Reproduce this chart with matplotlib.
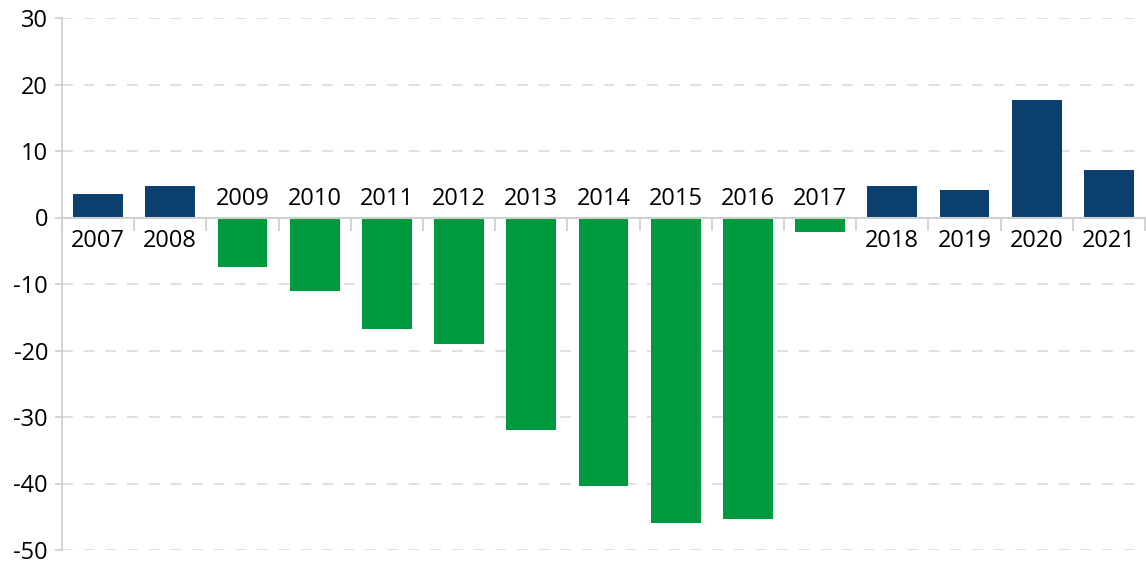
import numpy as np
import matplotlib.pyplot as plt

# yearly values
years = ["2007", "2008", "2009", "2010", "2011", "2012", "2013", "2014",
         "2015", "2016", "2017", "2018", "2019", "2020", "2021"]
values = [3.6, 4.8, -7.4, -11.0, -16.7, -19.0, -32.0, -40.4,
          -45.9, -45.3, -2.2, 4.7, 4.2, 17.6, 7.2]
yticks = [30, 20, 10, 0, -10, -20, -30, -40, -50]

navy = "#0B3F6E"
green = "#009A3E"
grey = "#D0D0D0"

plt.rcParams['font.family'] = ['Open Sans', 'DejaVu Sans']

fig = plt.figure(figsize=(11.46, 5.62), dpi=100)
ax = fig.add_axes([62/1146, 12/562, (1145-62)/1146, (550-18)/562])

x = np.arange(len(years))
cols = [navy if v >= 0 else green for v in values]
ax.bar(x, values, width=0.69, color=cols, zorder=3)

ax.set_xlim(-0.5, len(years) - 0.5)
ax.set_ylim(-50, 30)
ax.set_yticks(yticks)
ax.set_yticklabels([str(t) for t in yticks], fontsize=17)
ax.yaxis.grid(True, linestyle=(0, (6, 6)), color="#DDDDDD", linewidth=1.3, zorder=0)

# category boundaries as ticks on zero line
ax.set_xticks(np.arange(len(years) + 1) - 0.5)
ax.set_xticklabels([])
ax.tick_params(axis='x', length=9, color=grey, width=1.3)
ax.tick_params(axis='y', length=5, color=grey, width=1.3, pad=5, labelcolor="black")

for s in ['top', 'right']:
    ax.spines[s].set_visible(False)
ax.spines['bottom'].set_position(('data', 0))
ax.spines['bottom'].set_color(grey)
ax.spines['bottom'].set_linewidth(1.5)
ax.spines['bottom'].set_zorder(4)
ax.spines['left'].set_color(grey)
ax.spines['left'].set_linewidth(1.3)

# year labels: under the line for positive bars, over it for negative ones
for xi, yr, v in zip(x, years, values):
    if v >= 0:
        ax.annotate(yr, (xi, 0), xytext=(0, -8), textcoords='offset points',
                    ha='center', va='top', fontsize=17)
    else:
        ax.annotate(yr, (xi, 0), xytext=(0, 5), textcoords='offset points',
                    ha='center', va='bottom', fontsize=17)

fig.savefig("out.png", dpi=100)
